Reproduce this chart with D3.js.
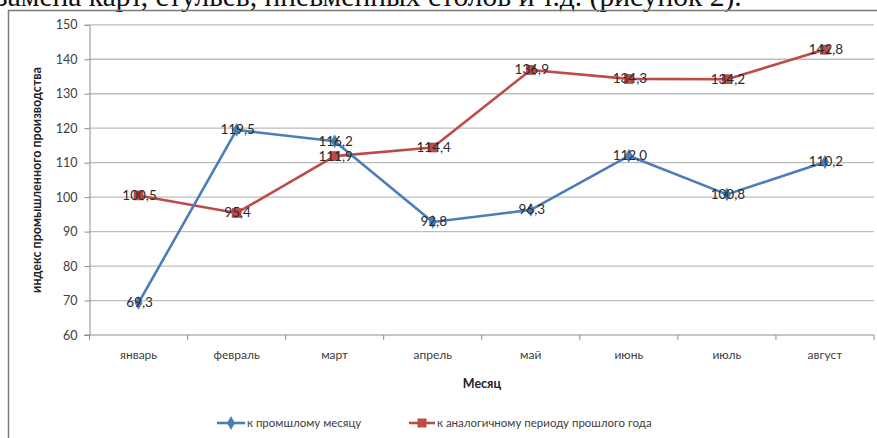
<!DOCTYPE html>
<html>
<head>
<meta charset="utf-8">
<script src="https://cdn.jsdelivr.net/npm/d3@7"></script>
<style>
  html, body { margin: 0; padding: 0; background: #fff; }
  svg { display: block; }
</style>
</head>
<body>
<svg id="chart" width="877" height="438"></svg>
<script>
// Monthly industrial production index
const months = ["январь", "февраль", "март", "апрель", "май", "июнь", "июль", "август"];
const toPrevMonth = [69.3, 119.5, 116.2, 92.8, 96.3, 112.0, 100.8, 110.2];
const toLastYear = [100.5, 95.4, 111.9, 114.4, 136.9, 134.3, 134.2, 142.8];
const yTicks = [60, 70, 80, 90, 100, 110, 120, 130, 140, 150];
const seriesNames = ["к промшлому месяцу", "к аналогичному периоду прошлого года"];

const svg = d3.select("#chart");
const W = 877, H = 438;
const m = { left: 89.5, right: 3, top: 24.8, bottom: 103 };

const fmt = v => d3.format(".1f")(v).replace(".", ",");

// Fragment of the surrounding document text
svg.append("text")
  .attr("x", -4).attr("y", 6)
  .attr("font-family", "Liberation Serif, Times New Roman, serif")
  .attr("font-size", 29.5)
  .attr("fill", "#111")
  .text("замена карт, стульев, пневменных столов и т.д. (рисунок 2).");

// Chart frame
svg.append("path")
  .attr("d", `M8.5,${H} V10.5 H${W}`)
  .attr("fill", "none").attr("stroke", "#7a7a7a").attr("stroke-width", 1.5);

const x = d3.scaleBand().domain(months).range([m.left, W - m.right]);
const y = d3.scaleLinear().domain([60, 150]).range([H - m.bottom, m.top]);

// Horizontal gridlines
svg.append("g").selectAll("line").data(yTicks.filter(t => t > 60)).join("line")
  .attr("x1", m.left).attr("x2", W - m.right)
  .attr("y1", d => y(d)).attr("y2", d => y(d))
  .attr("stroke", "#bdbdbd").attr("stroke-width", 1.3);

// Y axis
const yAxis = svg.append("g")
  .attr("transform", `translate(${m.left},0)`)
  .call(d3.axisLeft(y).tickValues(yTicks).tickSize(5).tickPadding(7));
yAxis.select(".domain").attr("stroke", "#8c8c8c");
yAxis.selectAll(".tick line").attr("stroke", "#8c8c8c");
yAxis.selectAll(".tick text")
  .attr("font-family", "Lato, Open Sans, sans-serif").attr("font-size", 12.5).attr("fill", "#404040");

// X axis with ticks at category boundaries
const xAxisY = y(60);
const gx = svg.append("g").attr("transform", `translate(0,${xAxisY})`);
gx.append("line").attr("x1", m.left - 5).attr("x2", W - m.right)
  .attr("stroke", "#8c8c8c").attr("stroke-width", 1.2);
const bounds = months.map(d => x(d)).concat([x(months[months.length - 1]) + x.bandwidth()]);
gx.selectAll("line.tk").data(bounds).join("line").attr("class", "tk")
  .attr("x1", d => d).attr("x2", d => d).attr("y1", 0).attr("y2", 5)
  .attr("stroke", "#8c8c8c");
gx.selectAll("text").data(months).join("text")
  .attr("x", d => x(d) + x.bandwidth() / 2).attr("y", 24)
  .attr("text-anchor", "middle")
  .attr("font-family", "Lato, Open Sans, sans-serif").attr("font-size", 12).attr("fill", "#404040")
  .text(d => d);

// Axis titles
svg.append("text")
  .attr("x", 482).attr("y", 388)
  .attr("text-anchor", "middle")
  .attr("font-family", "Lato, Open Sans, sans-serif").attr("font-weight", "bold")
  .attr("font-size", 12.5).attr("fill", "#222")
  .text("Месяц");
svg.append("text")
  .attr("transform", "translate(41,180) rotate(-90)")
  .attr("text-anchor", "middle")
  .attr("font-family", "Lato, Open Sans, sans-serif").attr("font-weight", "bold")
  .attr("font-size", 12.5).attr("fill", "#222")
  .text("индекс промышленного производства");

const cx = d => x(d) + x.bandwidth() / 2;
const line = d3.line().x(d => cx(d.m)).y(d => y(d.v));

const blue = "#4a7ebb", red = "#be4b48";
const sBlue = months.map((mm, i) => ({ m: mm, v: toPrevMonth[i] }));
const sRed = months.map((mm, i) => ({ m: mm, v: toLastYear[i] }));

// Series: last year's period
svg.append("path").datum(sRed).attr("d", line)
  .attr("fill", "none").attr("stroke", red).attr("stroke-width", 2.6).attr("stroke-linejoin", "round");
svg.append("g").selectAll("rect").data(sRed).join("rect")
  .attr("x", d => cx(d.m) - 4.5).attr("y", d => y(d.v) - 4.5)
  .attr("width", 9).attr("height", 9)
  .attr("fill", red).attr("stroke", "#a33b38").attr("stroke-width", 0.6);

// Series: previous month
svg.append("path").datum(sBlue).attr("d", line)
  .attr("fill", "none").attr("stroke", blue).attr("stroke-width", 2.6).attr("stroke-linejoin", "round");
const diamond = d3.symbol().type(d3.symbolDiamond).size(55);
svg.append("g").selectAll("path").data(sBlue).join("path")
  .attr("transform", d => `translate(${cx(d.m)},${y(d.v)})`)
  .attr("d", diamond).attr("fill", blue);

// Data labels centred on the points
const labels = svg.append("g")
  .attr("font-family", "Lato, Open Sans, sans-serif").attr("font-size", 13.5).attr("fill", "#2a2a2a")
  .attr("text-anchor", "middle");
[sBlue, sRed].forEach(s => {
  labels.selectAll(null).data(s).join("text")
    .attr("x", d => cx(d.m) + 1).attr("y", d => y(d.v) + 4.5)
    .text(d => fmt(d.v));
});

// Legend
const lg = svg.append("g").attr("font-family", "Lato, Open Sans, sans-serif").attr("font-size", 11.5).attr("fill", "#404040");
const legendY = 423;
lg.append("line").attr("x1", 217).attr("x2", 245).attr("y1", legendY).attr("y2", legendY)
  .attr("stroke", blue).attr("stroke-width", 2.6);
lg.append("path").attr("transform", `translate(231,${legendY})`).attr("d", diamond).attr("fill", blue);
lg.append("text").attr("x", 247).attr("y", legendY + 4).text(seriesNames[0]);
lg.append("line").attr("x1", 409).attr("x2", 435).attr("y1", legendY).attr("y2", legendY)
  .attr("stroke", red).attr("stroke-width", 2.6);
lg.append("rect").attr("x", 422 - 4.5).attr("y", legendY - 4.5).attr("width", 9).attr("height", 9).attr("fill", red);
lg.append("text").attr("x", 437).attr("y", legendY + 4).text(seriesNames[1]);
</script>
</body>
</html>
